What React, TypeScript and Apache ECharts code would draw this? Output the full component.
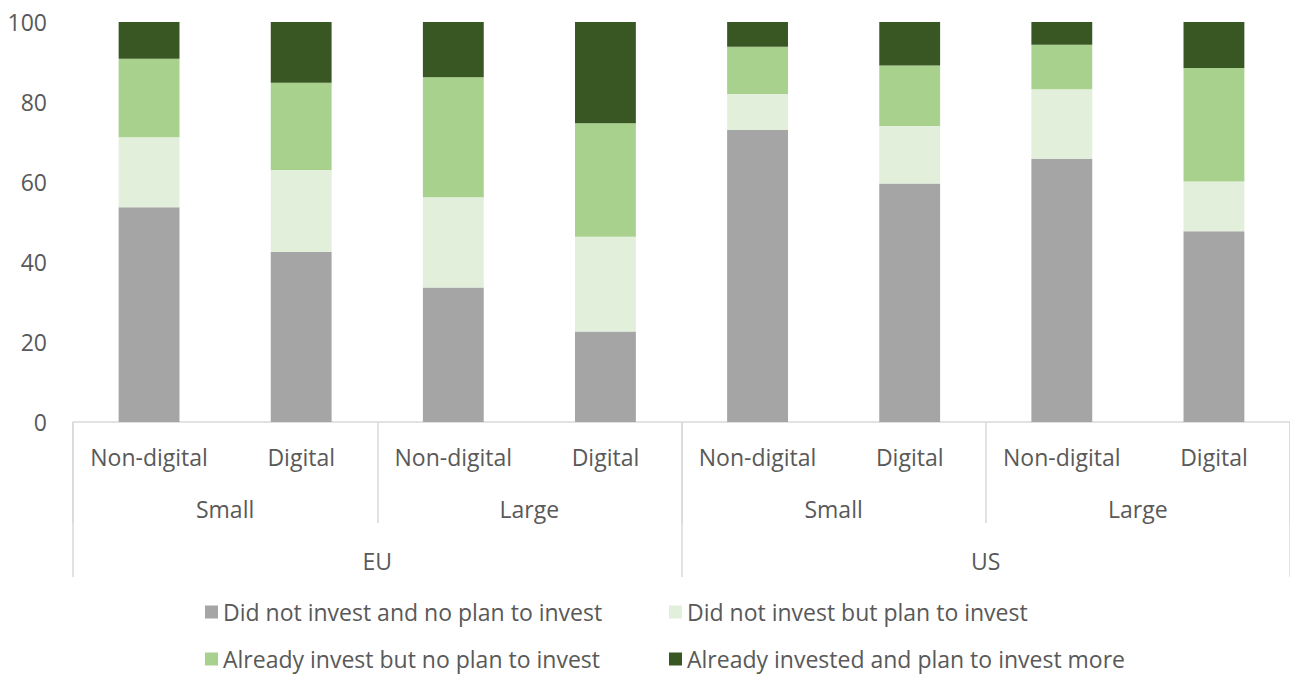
import React, { useEffect, useRef } from "react";
import * as echarts from "echarts";

const categories = ["Non-digital", "Digital", "Non-digital", "Digital", "Non-digital", "Digital", "Non-digital", "Digital"];
const sizeGroups = ["Small", "Large", "Small", "Large"];
const regionGroups = ["EU", "US"];

const seriesNames = [
  "Did not invest and no plan to invest",
  "Did not invest but plan to invest",
  "Already invest but no plan to invest",
  "Already invested and plan to invest more",
];

const didNotNoPlan = [53.7, 42.5, 33.6, 22.6, 73.0, 59.6, 65.8, 47.7];
const didNotPlan = [17.5, 20.5, 22.6, 23.7, 9.0, 14.4, 17.4, 12.4];
const alreadyNoPlan = [19.6, 21.8, 30.0, 28.4, 11.8, 15.1, 11.1, 28.4];
const alreadyPlanMore = [9.2, 15.2, 13.8, 25.3, 6.2, 10.9, 5.7, 11.5];

const colors = ["#A5A5A5", "#E2EFDA", "#A9D18E", "#385723"];

const FONT = "'Open Sans', 'Noto Sans', sans-serif";
const TEXT = "#595959";
const LINE = "#D9D9D9";
const FS = 23;

const legendSlots = [
  { left: 205, top: 599 },
  { left: 669, top: 599 },
  { left: 205, top: 646 },
  { left: 669, top: 646 },
];

export default function App() {
  const ref = useRef<HTMLDivElement>(null);

  useEffect(() => {
    if (!ref.current) return;
    const chart = echarts.init(ref.current, null, { renderer: "svg" });
    const values = [didNotNoPlan, didNotPlan, alreadyNoPlan, alreadyPlanMore];
    const labelBase = { color: TEXT, fontSize: FS, fontFamily: FONT, lineHeight: 26, interval: 0 };
    chart.setOption({
      animation: false,
      textStyle: { fontFamily: FONT },
      grid: { left: 73, right: 0, top: 22, bottom: 253, containLabel: false },
      xAxis: [
        {
          type: "category",
          data: categories,
          position: "bottom",
          axisLine: { show: true, onZero: false, lineStyle: { color: LINE, width: 1.5 } },
          axisTick: { show: false },
          axisLabel: { ...labelBase, margin: 22 },
        },
        {
          type: "category",
          data: sizeGroups,
          position: "bottom",
          axisLine: { show: false, onZero: false },
          axisTick: { show: true, length: 101, interval: 0, lineStyle: { color: LINE, width: 1.5 } },
          axisLabel: { ...labelBase, margin: 74 },
        },
        {
          type: "category",
          data: regionGroups,
          position: "bottom",
          axisLine: { show: false, onZero: false },
          axisTick: { show: true, length: 155, interval: 0, lineStyle: { color: LINE, width: 1.5 } },
          axisLabel: { ...labelBase, margin: 126 },
        },
      ],
      yAxis: {
        type: "value",
        min: 0,
        max: 100,
        interval: 20,
        axisLine: { show: false },
        axisTick: { show: false },
        splitLine: { show: false },
        axisLabel: { color: TEXT, fontSize: FS, fontFamily: FONT, margin: 26 },
      },
      legend: seriesNames.map((name, i) => ({
        orient: "horizontal",
        left: legendSlots[i].left,
        top: legendSlots[i].top,
        padding: 0,
        itemWidth: 13,
        itemHeight: 13,
        icon: "rect",
        data: [name],
        textStyle: { color: TEXT, fontSize: FS, fontFamily: FONT, lineHeight: 26 },
      })),
      series: seriesNames.map((name, i) => ({
        name,
        type: "bar",
        stack: "total",
        xAxisIndex: 0,
        barWidth: "40%",
        data: values[i],
        itemStyle: { color: colors[i] },
        emphasis: { disabled: true },
      })),
    });
    return () => chart.dispose();
  }, []);

  return (
    <div
      ref={ref}
      style={{ position: "fixed", left: 0, top: 0, width: 1290, height: 675, background: "#fff" }}
    />
  );
}
